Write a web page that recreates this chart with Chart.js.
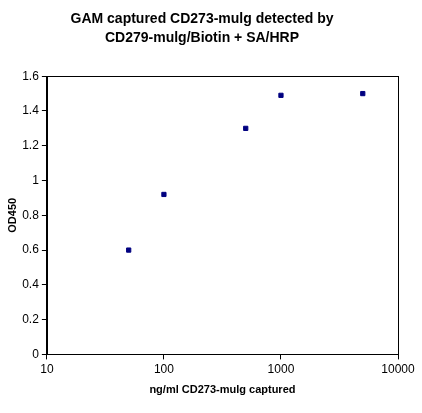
<!DOCTYPE html>
<html><head><meta charset="utf-8">
<script src="https://cdn.jsdelivr.net/npm/chart.js@4"></script>
<style>body{margin:0;background:#fff}#wrap{width:422px;height:413px}</style>
</head><body><div id="wrap"><canvas id="c"></canvas></div>
<script>
const concentrations = [50, 100, 500, 1000, 5000];
const od450 = [0.6, 0.92, 1.3, 1.49, 1.5];
const xTicks = [10, 100, 1000, 10000];

const frame = {
  id: "frame",
  afterDraw(chart) {
    const a = chart.chartArea, g = chart.ctx;
    g.save(); g.strokeStyle = "#000"; g.lineWidth = 1;
    g.strokeRect(Math.round(a.left) + 0.5, Math.round(a.top) + 0.5, Math.round(a.width), Math.round(a.height));
    g.restore();
  }
};

new Chart(document.getElementById("c"), {
  type: "scatter",
  data: {
    datasets: [{
      data: concentrations.map((x, i) => ({ x: x, y: od450[i] })),
      pointStyle: "rect",
      pointRadius: 3,
      backgroundColor: "#000080",
      borderColor: "#000080",
    }],
  },
  options: {
    responsive: true,
    maintainAspectRatio: false,
    animation: false,
    layout: { padding: { top: 5, right: 24, left: 6, bottom: 12 } },
    plugins: {
      legend: { display: false },
      tooltip: { enabled: false },
      title: {
        display: true,
        text: ["GAM captured CD273-mulg detected by", "CD279-mulg/Biotin + SA/HRP"],
        color: "#000",
        font: { family: "Liberation Sans", size: 14, weight: "bold", lineHeight: 1.4 },
        padding: { top: 4, bottom: 28 },
      },
    },
    scales: {
      x: {
        type: "logarithmic",
        min: 10, max: 10000,
        afterBuildTicks: (s) => { s.ticks = xTicks.map(v => ({ value: v })); },
        ticks: { color: "#000", font: { family: "Liberation Sans", size: 12 }, callback: (v) => String(v), maxRotation: 0 },
        grid: { drawOnChartArea: false, color: "#000", tickLength: 5 },
        border: { color: "#000" },
        title: { display: true, text: "ng/ml CD273-mulg captured", color: "#000", font: { family: "Liberation Sans", size: 11, weight: "bold" } },
      },
      y: {
        min: 0, max: 1.6,
        ticks: { stepSize: 0.2, color: "#000", font: { family: "Liberation Sans", size: 12 }, callback: (v) => String(Math.round(v * 10) / 10) },
        grid: { drawOnChartArea: false, color: "#000", tickLength: 5 },
        border: { color: "#000" },
        title: { display: true, text: "OD450", color: "#000", font: { family: "Liberation Sans", size: 11, weight: "bold" }, padding: { top: 0, bottom: 0 } },
      },
    },
  },
  plugins: [frame],
});
</script></body></html>
